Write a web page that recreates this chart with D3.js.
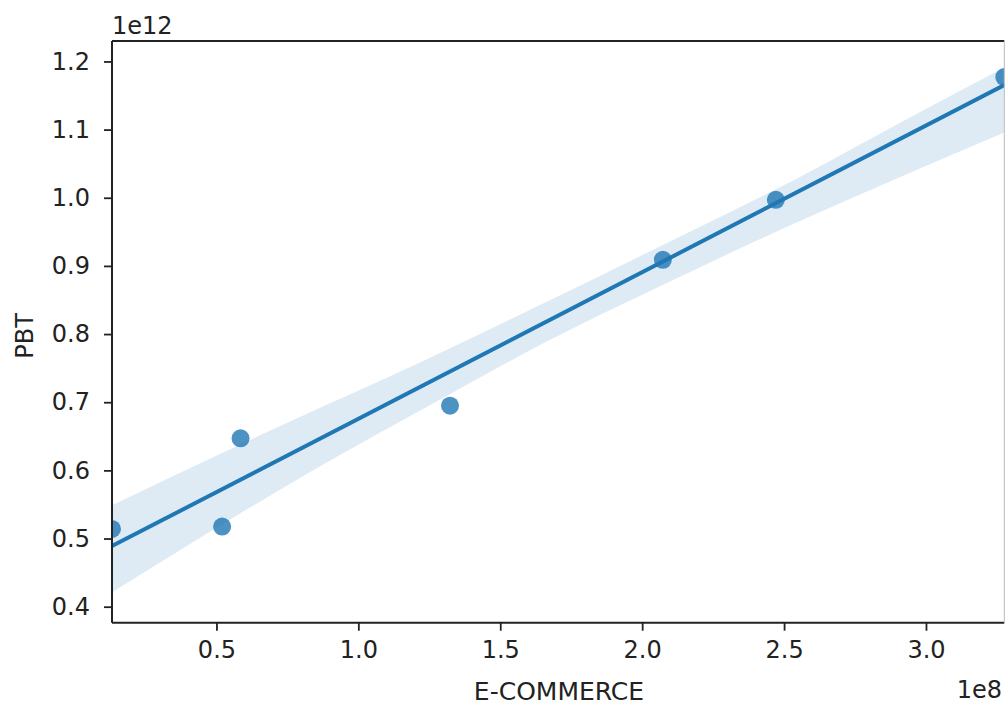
<!DOCTYPE html>
<html>
<head>
  <meta charset="utf-8">
  <title>PBT vs E-COMMERCE</title>
  <script src="https://d3js.org/d3.v7.min.js"></script>
  <style>
    body { margin: 0; background: #fff; }
    svg text { font-family: "DejaVu Sans", sans-serif; fill: #222; }
  </style>
</head>
<body>
<script>
var ecommerce = [0.132e8, 0.520e8, 0.585e8, 1.323e8, 2.073e8, 2.471e8, 3.276e8];
var pbt = [0.514e12, 0.5175e12, 0.647e12, 0.695e12, 0.909e12, 0.997e12, 1.177e12];

// confidence band edges, read at a few x positions
var bandX = [0.132e8, 0.582e8, 0.794e8, 1.146e8, 1.319e8, 1.640e8, 2.098e8, 2.556e8, 2.899e8, 3.276e8];
var bandLo = [0.4211e12, 0.5364e12, 0.5888e12, 0.6712e12, 0.7110e12, 0.7838e12, 0.8771e12, 0.9659e12, 1.0285e12, 1.0956e12];
var bandHi = [0.5489e12, 0.6377e12, 0.6784e12, 0.7446e12, 0.7786e12, 0.8426e12, 0.9358e12, 1.0305e12, 1.1078e12, 1.1910e12];

var xTicks = [0.5e8, 1.0e8, 1.5e8, 2.0e8, 2.5e8, 3.0e8];
var yTicks = [0.4e12, 0.5e12, 0.6e12, 0.7e12, 0.8e12, 0.9e12, 1.0e12, 1.1e12, 1.2e12];

var W = 1005, H = 707;
var margin = { top: 41, right: 0.7, bottom: 84.3, left: 112 };
var width = W - margin.left - margin.right,
    height = H - margin.top - margin.bottom;

var svg = d3.select(document.body).append("svg")
  .attr("width", W)
  .attr("height", H);

var g = svg.append("g")
  .attr("transform", "translate(" + margin.left + "," + margin.top + ")");

var x = d3.scaleLinear().domain([0.132e8, 3.276e8]).range([0, width]);
var y = d3.scaleLinear().domain([0.3765e12, 1.230e12]).range([height, 0]);

svg.append("defs").append("clipPath").attr("id", "plotclip")
  .append("rect").attr("width", width).attr("height", height);

var plot = g.append("g").attr("clip-path", "url(#plotclip)");

// least squares fit through the observations
var mx = d3.mean(ecommerce), my = d3.mean(pbt);
var sxy = d3.sum(ecommerce, function (v, i) { return (v - mx) * (pbt[i] - my); });
var sxx = d3.sum(ecommerce, function (v) { return (v - mx) * (v - mx); });
var slope = sxy / sxx, icpt = my - slope * mx;
var xr = x.domain();

var band = bandX.map(function (v, i) { return [v, bandLo[i], bandHi[i]]; });
plot.append("path")
  .datum(band)
  .attr("fill", "#1f77b4")
  .attr("fill-opacity", 0.15)
  .attr("d", d3.area()
    .curve(d3.curveMonotoneX)
    .x(function (d) { return x(d[0]); })
    .y0(function (d) { return y(d[1]); })
    .y1(function (d) { return y(d[2]); }));

plot.append("g")
  .selectAll("circle")
  .data(ecommerce)
  .enter()
  .append("circle")
  .attr("cx", function (d) { return x(d); })
  .attr("cy", function (d, i) { return y(pbt[i]); })
  .attr("r", 9)
  .attr("fill", "#1f77b4")
  .attr("fill-opacity", 0.8);

plot.append("line")
  .attr("x1", x(xr[0])).attr("y1", y(icpt + slope * xr[0]))
  .attr("x2", x(xr[1])).attr("y2", y(icpt + slope * xr[1]))
  .attr("stroke", "#1f77b4")
  .attr("stroke-width", 4);

// axes
var xAxis = g.append("g")
  .attr("transform", "translate(0," + height + ")")
  .call(d3.axisBottom(x).tickValues(xTicks)
    .tickFormat(function (d) { return (d / 1e8).toFixed(1); })
    .tickSize(8).tickPadding(10));
var yAxis = g.append("g")
  .call(d3.axisLeft(y).tickValues(yTicks)
    .tickFormat(function (d) { return (d / 1e12).toFixed(1); })
    .tickSize(8).tickPadding(14));

[xAxis, yAxis].forEach(function (a) {
  a.select(".domain").remove();
  a.selectAll(".tick line").attr("stroke", "#222").attr("stroke-width", 1.8);
  a.selectAll(".tick text").attr("font-size", 24).attr("fill", "#222")
    .style("font-family", "DejaVu Sans, sans-serif");
});
xAxis.selectAll(".tick text").attr("dy", "0.71em");

// spines
g.append("line").attr("x1", 0).attr("x2", 0).attr("y1", 0).attr("y2", height)
  .attr("stroke", "#222").attr("stroke-width", 2);
g.append("line").attr("x1", 0).attr("x2", width).attr("y1", 0).attr("y2", 0)
  .attr("stroke", "#222").attr("stroke-width", 2);
g.append("line").attr("x1", 0).attr("x2", width).attr("y1", height).attr("y2", height)
  .attr("stroke", "#222").attr("stroke-width", 2);
g.append("line").attr("x1", width).attr("x2", width).attr("y1", 0).attr("y2", height)
  .attr("stroke", "#bbb").attr("stroke-width", 1);

// labels and offset texts
svg.append("text").attr("x", 559).attr("y", 700)
  .attr("text-anchor", "middle").attr("font-size", 25).text("E-COMMERCE");
svg.append("text")
  .attr("transform", "translate(33,336) rotate(-90)")
  .attr("text-anchor", "middle").attr("font-size", 24).text("PBT");
svg.append("text").attr("x", 112).attr("y", 34)
  .attr("font-size", 24).text("1e12");
svg.append("text").attr("x", 1002).attr("y", 698)
  .attr("text-anchor", "end").attr("font-size", 24).text("1e8");
</script>
</body>
</html>
